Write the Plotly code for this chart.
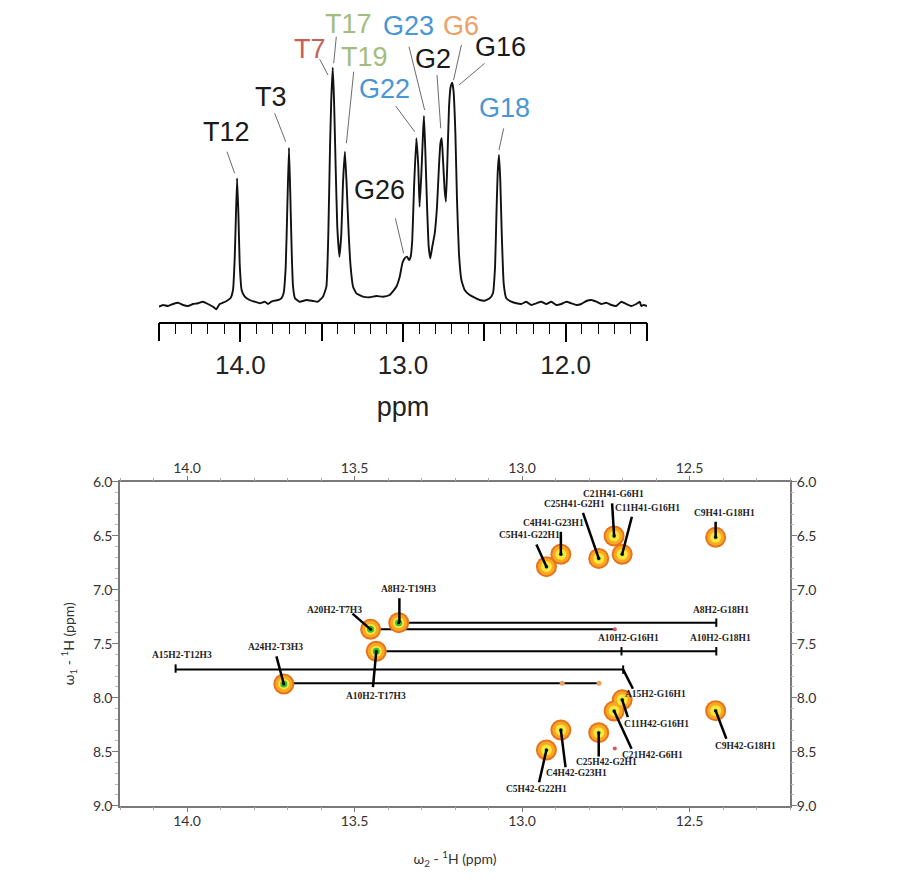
import plotly.graph_objects as go

# ---------------- 1D imino spectrum (traced) ----------------
spec_ppm = [14.502, 14.475, 14.445, 14.414, 14.383, 14.352, 14.322, 14.291, 14.260, 14.230,
            14.199, 14.168, 14.148, 14.127, 14.107, 14.082, 14.061, 14.045, 14.035, 14.029,
            14.020, 14.012, 14.004, 13.992, 13.973, 13.943, 13.912, 13.881, 13.850, 13.830,
            13.809, 13.789, 13.768, 13.748, 13.734, 13.721, 13.711, 13.701, 13.693, 13.684,
            13.676, 13.664, 13.635, 13.594, 13.553, 13.523, 13.492, 13.471, 13.459, 13.449,
            13.441, 13.432, 13.424, 13.414, 13.404, 13.391, 13.379, 13.369, 13.357, 13.346,
            13.334, 13.322, 13.307, 13.287, 13.246, 13.205, 13.164, 13.123, 13.082, 13.041,
            13.020, 13.004, 12.990, 12.975, 12.963, 12.953, 12.943, 12.932, 12.918, 12.906,
            12.898, 12.887, 12.877, 12.871, 12.863, 12.852, 12.842, 12.832, 12.820, 12.805,
            12.791, 12.779, 12.770, 12.762, 12.754, 12.744, 12.736, 12.727, 12.717, 12.707,
            12.697, 12.689, 12.678, 12.668, 12.656, 12.641, 12.621, 12.590, 12.559, 12.529,
            12.498, 12.467, 12.447, 12.434, 12.426, 12.418, 12.410, 12.402, 12.393, 12.381,
            12.365, 12.334, 12.303, 12.273, 12.242, 12.211, 12.180, 12.150, 12.119, 12.088,
            12.057, 12.027, 11.996, 11.965, 11.934, 11.904, 11.873, 11.842, 11.811, 11.781,
            11.750, 11.719, 11.689, 11.658, 11.627, 11.596, 11.566, 11.545, 11.535, 11.520,
            11.500]
spec_int = [13.3, 15.0, 14.0, 16.0, 17.3, 15.0, 14.0, 16.0, 16.7, 18.3,
            16.0, 13.3, 10.7, 16.0, 17.3, 19.3, 21.7, 30.0, 60.0, 93.3,
            141.7, 106.7, 56.7, 30.0, 23.3, 20.0, 18.3, 16.7, 18.3, 16.0,
            18.3, 19.3, 20.0, 21.7, 26.7, 53.3, 113.3, 172.3, 126.7, 66.7,
            33.3, 21.7, 18.3, 20.0, 19.0, 18.3, 23.3, 33.3, 86.7, 170.0,
            220.0, 252.3, 220.0, 153.3, 93.3, 63.3, 86.7, 136.7, 168.3, 133.3,
            86.7, 53.3, 33.3, 26.7, 23.3, 22.7, 24.0, 23.3, 25.0, 33.3,
            43.3, 56.7, 61.7, 63.3, 60.0, 63.3, 80.0, 133.3, 181.7, 153.3,
            113.3, 146.7, 186.7, 204.0, 170.0, 113.3, 73.3, 61.7, 73.3, 86.7,
            113.3, 153.3, 176.7, 181.7, 160.0, 130.0, 118.3, 160.0, 213.3, 233.3,
            237.3, 228.3, 186.7, 120.0, 66.7, 40.0, 30.0, 25.0, 22.3, 20.0,
            19.3, 21.7, 26.7, 53.3, 103.3, 146.7, 165.0, 140.0, 86.7, 36.7,
            21.7, 18.3, 16.7, 16.0, 18.3, 15.0, 16.7, 18.3, 16.0, 18.3,
            15.0, 16.0, 18.3, 16.7, 15.0, 16.0, 19.0, 20.0, 18.3, 16.0,
            17.3, 15.0, 14.0, 18.3, 16.0, 14.0, 16.0, 18.3, 14.0, 15.0,
            14.0]
spec_labeled_ticks = [14.0, 13.0, 12.0]
spec_half_ticks = [14.5, 13.5, 12.5, 11.5]

imino_labels = ["T12", "T3", "T7", "T17", "T19", "G22", "G23", "G6", "G2", "G16", "G18", "G26"]
imino_colors = ["#1a1a1a", "#1a1a1a", "#c8605a", "#a3bd7f", "#a3bd7f", "#4a96d2",
                "#4a96d2", "#eba26a", "#1a1a1a", "#1a1a1a", "#4a96d2", "#1a1a1a"]

# label placement (layout): text centre and leader line (x0, y0, x1, y1)
imino_text_pos = [(14.086, 188.3), (13.809, 223.3), (13.574, 270.7), (13.332, 296.5),
                  (13.236, 262.7), (13.113, 230.7), (12.969, 294.0), (12.641, 294.0),
                  (12.816, 260.7), (12.402, 273.3), (12.375, 211.7), (13.143, 130.0)]
imino_leaders = [(14.082, 168.3, 14.035, 146.7), (13.789, 206.7, 13.721, 178.3),
                 (13.512, 260.7, 13.461, 245.0), (13.410, 283.3, 13.426, 256.7),
                 (13.303, 248.3, 13.348, 176.7), (13.045, 214.0, 12.928, 188.3),
                 (12.963, 273.3, 12.867, 210.0), (12.641, 275.0, 12.689, 240.0),
                 (12.791, 245.0, 12.768, 191.7), (12.498, 256.7, 12.656, 235.0),
                 (12.381, 191.7, 12.410, 170.0), (13.047, 101.7, 12.996, 66.7)]

# ---------------- 2D NOESY ----------------
at_names = ["A20H2-T7H3", "A8H2-T19H3", "A10H2-T17H3", "A24H2-T3H3"]
at_w2 = [13.452, 13.368, 13.435, 13.711]
at_w1 = [7.367, 7.305, 7.570, 7.873]

cg_names = ["C5H41-G22H1", "C4H41-G23H1", "C25H41-G2H1", "C21H41-G6H1", "C11H41-G16H1",
            "C9H41-G18H1", "C11H42-G16H1", "C21H42-G6H1", "C25H42-G2H1", "C4H42-G23H1",
            "C5H42-G22H1", "C9H42-G18H1"]
cg_w2 = [12.927, 12.884, 12.771, 12.725, 12.701, 12.422, 12.701, 12.725, 12.771, 12.884,
         12.927, 12.422]
cg_w1 = [6.787, 6.672, 6.710, 6.503, 6.672, 6.515, 8.020, 8.123, 8.324, 8.299, 8.484, 8.120]

weak_names = ["A15H2-T12H3", "A8H2-G18H1", "A10H2-G16H1", "A10H2-G18H1", "A15H2-G16H1"]
weak_w2 = [14.034, 12.420, 12.703, 12.420, 12.698]
weak_w1 = [7.730, 7.305, 7.570, 7.570, 7.740]

red_w2 = [12.723, 12.723]
red_w1 = [7.367, 8.470]
orange_w2 = [12.880, 12.770]
orange_w1 = [7.867, 7.867]

# sequential walk lines: w1 value, w2 start, w2 end
walk_w1 = [7.305, 7.367, 7.570, 7.740, 7.867]
walk_start = [13.368, 13.452, 13.435, 14.034, 13.711]
walk_end = [12.420, 12.723, 12.420, 12.698, 12.768]

# label placement (layout) for 2D: name -> (text x, text y, leader x0, y0, x1, y1)
noe_label_layout = {
    "A20H2-T7H3": (13.559, 7.184, 13.506, 7.221, 13.452, 7.367),
    "A8H2-T19H3": (13.340, 6.998, 13.366, 7.079, 13.366, 7.305),
    "A10H2-T17H3": (13.435, 7.988, 13.445, 7.902, 13.435, 7.570),
    "A24H2-T3H3": (13.735, 7.531, 13.733, 7.617, 13.711, 7.873),
    "A15H2-T12H3": (14.014, 7.601, None, None, None, None),
    "C5H41-G22H1": (12.977, 6.495, 12.957, 6.581, 12.927, 6.787),
    "C4H41-G23H1": (12.907, 6.386, 12.884, 6.464, 12.884, 6.672),
    "C25H41-G2H1": (12.843, 6.207, 12.818, 6.288, 12.771, 6.710),
    "C21H41-G6H1": (12.728, 6.117, 12.731, 6.200, 12.725, 6.503),
    "C11H41-G16H1": (12.624, 6.247, 12.672, 6.325, 12.701, 6.672),
    "C9H41-G18H1": (12.395, 6.288, 12.422, 6.371, 12.422, 6.515),
    "A8H2-G18H1": (12.405, 7.184, None, None, None, None),
    "A10H2-G16H1": (12.681, 7.447, None, None, None, None),
    "A10H2-G18H1": (12.407, 7.447, None, None, None, None),
    "A15H2-G16H1": (12.602, 7.969, 12.698, 7.740, 12.669, 7.917),
    "C11H42-G16H1": (12.599, 8.248, 12.701, 8.020, 12.684, 8.180),
    "C21H42-G6H1": (12.609, 8.535, 12.725, 8.123, 12.673, 8.473),
    "C25H42-G2H1": (12.748, 8.597, 12.771, 8.324, 12.771, 8.545),
    "C4H42-G23H1": (12.838, 8.699, 12.884, 8.299, 12.870, 8.644),
    "C5H42-G22H1": (12.957, 8.844, 12.927, 8.484, 12.949, 8.783),
    "C9H42-G18H1": (12.333, 8.449, 12.422, 8.120, 12.390, 8.380),
}

# the page body has an 8px margin, so the figure is offset by 8px
OFF = 8
W, H = 919 - OFF, 893 - OFF
fig = go.Figure()

# 1D spectrum
fig.add_trace(go.Scatter(x=spec_ppm, y=spec_int, mode="lines",
                         line=dict(color="#111111", width=1.9, shape="spline", smoothing=0.4),
                         xaxis="x", yaxis="y", showlegend=False, hoverinfo="skip"))
# invisible trace so the half-ppm tick overlay axis is drawn
fig.add_trace(go.Scatter(x=[13.0], y=[100], mode="markers", marker=dict(size=1, opacity=0),
                         xaxis="x4", yaxis="y", showlegend=False, hoverinfo="skip"))

shapes = []
annotations = []
for name, col, (tx, ty), (x0, y0, x1, y1) in zip(imino_labels, imino_colors, imino_text_pos, imino_leaders):
    annotations.append(dict(x=tx, y=ty, xref="x", yref="y", text=name, showarrow=False,
                            font=dict(family="Liberation Sans", size=27, color=col),
                            xanchor="center", yanchor="middle", borderpad=0))
    shapes.append(dict(type="line", x0=x0, y0=y0, x1=x1, y1=y1, xref="x", yref="y",
                       line=dict(color="#444444", width=0.8)))

# 2D: walk lines
for yv, xs, xe in zip(walk_w1, walk_start, walk_end):
    fig.add_trace(go.Scatter(x=[xs, xe], y=[yv, yv], mode="lines",
                             line=dict(color="black", width=2),
                             xaxis="x2", yaxis="y2", showlegend=False, hoverinfo="skip"))

# 2D: labels and leader lines
for name, (tx, ty, x0, y0, x1, y1) in noe_label_layout.items():
    annotations.append(dict(x=tx, y=ty, xref="x2", yref="y2", text="<b>%s</b>" % name,
                            showarrow=False,
                            font=dict(family="Liberation Serif", size=9.5, color="#222222"),
                            xanchor="center", yanchor="middle"))
    if x0 is not None:
        shapes.append(dict(type="line", x0=x0, y0=y0, x1=x1, y1=y1, xref="x2", yref="y2",
                           line=dict(color="black", width=2.5)))

# 2D: cross-peak contours (layered markers)
def blobs(xs, ys, green_size):
    layers = [(21, "#e8731e"), (17, "#f7a922"), (11, "#ffe43c"), (green_size, "#2fbf3a"), (3, "#000000")]
    for size, col in layers:
        fig.add_trace(go.Scatter(x=xs, y=ys, mode="markers",
                                 marker=dict(size=size, color=col, line=dict(width=0)),
                                 xaxis="x2", yaxis="y2", showlegend=False, hoverinfo="skip"))

blobs(at_w2, at_w1, 7)
blobs(cg_w2, cg_w1, 4)

fig.add_trace(go.Scatter(x=weak_w2, y=weak_w1, mode="markers",
                         marker=dict(symbol="line-ns", size=6, line=dict(width=2, color="black")),
                         xaxis="x2", yaxis="y2", showlegend=False, hoverinfo="skip"))
fig.add_trace(go.Scatter(x=red_w2, y=red_w1, mode="markers",
                         marker=dict(size=4, color="#e0505a"),
                         xaxis="x2", yaxis="y2", showlegend=False, hoverinfo="skip"))
fig.add_trace(go.Scatter(x=orange_w2, y=orange_w1, mode="markers",
                         marker=dict(size=5, color="#f0a060"),
                         xaxis="x2", yaxis="y2", showlegend=False, hoverinfo="skip"))
# invisible trace so the mirrored label axes are drawn
fig.add_trace(go.Scatter(x=[13.0], y=[7.5], mode="markers", marker=dict(size=1, opacity=0),
                         xaxis="x3", yaxis="y3", showlegend=False, hoverinfo="skip"))

px2x = lambda p: (p - OFF) / W
py2y = lambda p: 1 - (p - OFF) / H

frame_col = "#7a7a7a"
tick_font2 = dict(family="Lato", size=14, color="#333333")
minor_x = dict(ticks="outside", ticklen=3, tickwidth=1, tickcolor="#aaaaaa",
               tickmode="linear", tick0=0, dtick=0.1)
minor_y = dict(ticks="outside", ticklen=3, tickwidth=1, tickcolor="#bbbbbb",
               tickmode="linear", tick0=0, dtick=0.1)

fig.update_layout(
    width=W, height=H, margin=dict(l=0, r=0, t=0, b=0),
    paper_bgcolor="white", plot_bgcolor="white",
    xaxis=dict(domain=[px2x(159), px2x(647)], range=[14.5, 11.5], anchor="y",
               showgrid=False, zeroline=False, showline=True, linecolor="black", linewidth=1.5,
               ticks="outside", ticklen=18, tickwidth=1.5, tickcolor="black",
               tickmode="array", tickvals=spec_labeled_ticks, tickformat=".1f",
               minor=dict(ticks="outside", ticklen=10, tickwidth=1.3, tickcolor="black",
                          tickmode="linear", tick0=0, dtick=0.1),
               tickfont=dict(family="Liberation Sans", size=26, color="#222222"),
               ticklabelstandoff=1,
               title=dict(text="ppm", font=dict(family="Liberation Sans", size=27, color="#222222"),
                          standoff=18),
               automargin=False),
    xaxis4=dict(overlaying="x", matches="x", anchor="y", side="bottom", range=[14.5, 11.5],
                showgrid=False, zeroline=False, showline=False, showticklabels=False,
                ticks="outside", ticklen=18, tickwidth=1.5, tickcolor="black",
                tickmode="array", tickvals=spec_half_ticks, automargin=False),
    yaxis=dict(domain=[py2y(322), 1.0], range=[-2, 312], visible=False, anchor="x"),
    xaxis2=dict(domain=[px2x(120), px2x(790)], range=[14.2, 12.2], anchor="y2", side="bottom",
                showgrid=False, zeroline=False, showline=True, mirror=True,
                linecolor=frame_col, linewidth=1.5,
                ticks="outside", ticklen=5, tickwidth=1.2, tickcolor=frame_col,
                tickmode="linear", tick0=0, dtick=0.5, tickformat=".1f",
                minor=minor_x, tickfont=tick_font2, ticklabelstandoff=-3,
                title=dict(text="ω<sub>2</sub> - <sup>1</sup>H (ppm)",
                           font=dict(family="Lato", size=14, color="#333333"), standoff=26),
                automargin=False),
    xaxis3=dict(overlaying="x2", matches="x2", anchor="y2", side="top",
                range=[14.2, 12.2], showgrid=False, zeroline=False, showline=False,
                ticks="outside", ticklen=5, tickwidth=1.2, tickcolor=frame_col,
                tickmode="linear", tick0=0, dtick=0.5, tickformat=".1f",
                minor=minor_x, tickfont=tick_font2, ticklabelstandoff=-3, automargin=False),
    yaxis2=dict(domain=[py2y(805.7), py2y(481.7)], range=[9.0, 6.0], anchor="x2", side="left",
                showgrid=False, zeroline=False, showline=True, mirror=True,
                linecolor=frame_col, linewidth=1.5,
                ticks="outside", ticklen=6, tickwidth=1.2, tickcolor=frame_col,
                tickmode="linear", tick0=0, dtick=0.5, tickformat=".1f",
                minor=minor_y, tickfont=tick_font2, ticklabelstandoff=-3,
                title=dict(text="ω<sub>1</sub> - <sup>1</sup>H (ppm)",
                           font=dict(family="Lato", size=14, color="#333333"), standoff=15),
                automargin=False),
    yaxis3=dict(overlaying="y2", matches="y2", anchor="x2", side="right",
                range=[9.0, 6.0], showgrid=False, zeroline=False, showline=False,
                ticks="outside", ticklen=6, tickwidth=1.2, tickcolor=frame_col,
                tickmode="linear", tick0=0, dtick=0.5, tickformat=".1f",
                minor=minor_y, tickfont=tick_font2, ticklabelstandoff=-3, automargin=False),
    shapes=shapes,
    annotations=annotations,
)

fig.write_html("out.html")
